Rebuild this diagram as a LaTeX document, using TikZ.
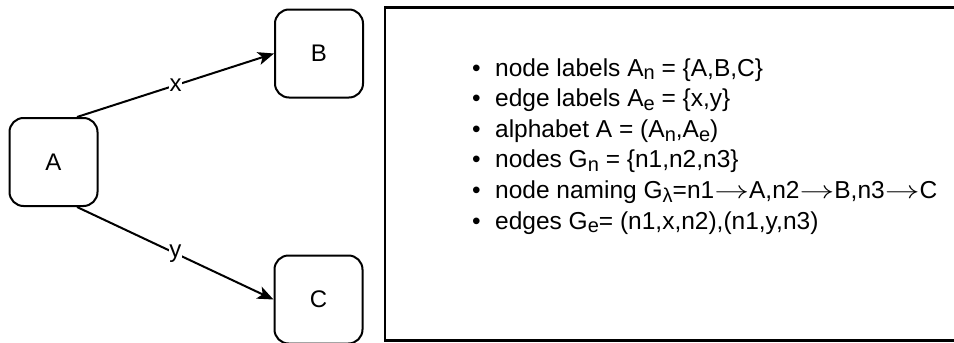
\documentclass[tikz,border=0pt]{standalone}
\usepackage{fontspec}
\setmainfont{Liberation Sans}
\usetikzlibrary{arrows.meta,positioning}
\newcommand{\lsub}[1]{\raisebox{-0.3ex}{\fontsize{20}{20}\selectfont #1}}
\newcommand{\mapsarrow}{\scalebox{1.4}[1]{$\rightarrow$}}
\tikzset{
  statebox/.style={draw,line width=2pt,rounded corners=14pt,minimum width=88pt,
    minimum height=88pt,font=\fontsize{24}{24}\selectfont},
  edgearrow/.style={-{Stealth[length=16pt,width=13pt,inset=4pt]},line width=2pt},
  edgelabel/.style={fill=white,inner sep=0.5pt,font=\fontsize{24}{24}\selectfont},
  infopanel/.style={draw,line width=2.5pt,minimum width=574pt,minimum height=333pt},
  factline/.style={anchor=base west,inner sep=0pt,font=\fontsize{24.5}{28}\selectfont}
}

\begin{document}
\begin{tikzpicture}[x=1pt,y=-1pt]
  \useasboundingbox (0,0) rectangle (954,343);
  \node[statebox] (a) at (53.5,162) {A};
  \node[statebox] (b) at (319,53.5) {B};
  \node[statebox] (c) at (318.5,299.5) {C};
  \draw[edgearrow] ([xshift=23.5pt]a.north) -- node[edgelabel] {x} (b.west);
  \draw[edgearrow] ([xshift=23.5pt]a.south) -- node[edgelabel] {y} (c.west);
  % facts about the graph
  \node[infopanel] (panel) at (672,174) {};
  \foreach \txt [count=\i] in {
      {node labels A\lsub{n} = \{A,B,C\}},
      {edge labels A\lsub{e} = \{x,y\}},
      {alphabet A = (A\lsub{n},A\lsub{e})},
      {nodes G\lsub{n} = \{n1,n2,n3\}},
      {node naming G\lsub{λ}=n1\mapsarrow A,n2\mapsarrow B,n3\mapsarrow C},
      {edges G\lsub{e}= (n1,x,n2),(n1,y,n3)}}
    \node[factline] (fact\i) at (472,{76+30.6*(\i-1)}) {\makebox[23pt][l]{\textbullet}\txt};
\end{tikzpicture}
\end{document}
